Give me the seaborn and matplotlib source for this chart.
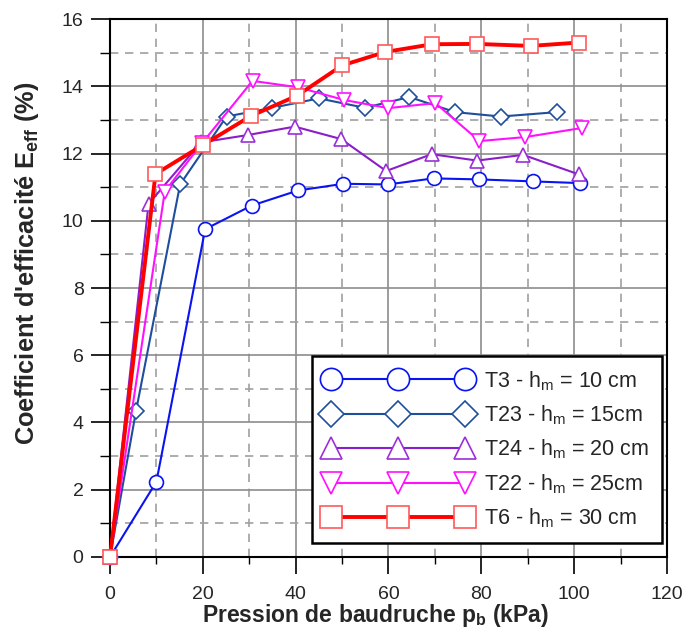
import matplotlib
matplotlib.use("Agg")
import matplotlib.pyplot as plt
from matplotlib.ticker import MultipleLocator
import seaborn as sns
import pandas as pd

# pressure (kPa) and efficiency coefficient (%) per test
t3_x = [0, 10, 20.5, 30.5, 40.5, 50.3, 59.8, 69.7, 79.6, 91.2, 101.3]
t3_y = [0, 2.24, 9.75, 10.45, 10.9, 11.1, 11.08, 11.26, 11.23, 11.17, 11.12]
t23_x = [0, 5.6, 15.1, 25.1, 35.0, 45.0, 54.9, 64.5, 74.4, 84.2, 96.2]
t23_y = [0, 4.34, 11.08, 13.1, 13.36, 13.64, 13.36, 13.68, 13.23, 13.1, 13.23]
t24_x = [0, 8.3, 19.6, 29.7, 39.8, 49.8, 59.5, 69.3, 79.1, 89.0, 101.0]
t24_y = [0, 10.5, 12.33, 12.55, 12.8, 12.43, 11.48, 11.98, 11.79, 11.96, 11.38]
t22_x = [0, 11.8, 19.9, 30.7, 40.5, 50.5, 60.0, 70.1, 79.6, 89.5, 101.7]
t22_y = [0, 10.87, 12.32, 14.16, 13.97, 13.59, 13.35, 13.5, 12.37, 12.49, 12.76]
t6_x = [0, 9.8, 20.1, 30.4, 40.3, 50.0, 59.3, 69.4, 79.1, 90.6, 101.0]
t6_y = [0, 11.39, 12.26, 13.12, 13.72, 14.62, 15.02, 15.25, 15.26, 15.2, 15.3]

labels = [r"T3 - h$_\mathrm{m}$ = 10 cm", r"T23 - h$_\mathrm{m}$ = 15cm",
          r"T24 - h$_\mathrm{m}$ = 20 cm", r"T22 - h$_\mathrm{m}$ = 25cm",
          r"T6 - h$_\mathrm{m}$ = 30 cm"]

sns.set_style("white")
plt.rcParams['font.family'] = ['Liberation Sans', 'DejaVu Sans']
plt.rcParams['mathtext.fontset'] = 'custom'
plt.rcParams['mathtext.rm'] = 'Liberation Sans'
plt.rcParams['mathtext.bf'] = 'Liberation Sans:bold'
plt.rcParams['mathtext.it'] = 'Liberation Sans:italic'

fig = plt.figure(figsize=(6.85, 6.3), dpi=100)
ax = fig.add_axes([0.1606, 0.1159, 0.8131, 0.8539])

series = [(t3_x, t3_y, 'o', '#0a14f0', '#0a14f0', 1.5, 10),
          (t23_x, t23_y, 'D', '#1f4e9c', '#1f4e9c', 1.5, 8),
          (t24_x, t24_y, '^', '#8a1ec8', '#9a30d8', 1.5, 10),
          (t22_x, t22_y, 'v', '#ff10ff', '#ff10ff', 1.5, 10),
          (t6_x, t6_y, 's', '#ff0000', '#ff5a5a', 2.8, 10)]

for (xs, ys, mk, col, mec, lw, ms), lab in zip(series, labels):
    df = pd.DataFrame({'p': xs, 'e': ys})
    sns.lineplot(data=df, x='p', y='e', ax=ax, sort=False, estimator=None,
                 color=col, lw=lw, marker=mk, ms=ms, mfc='white', mec=mec,
                 mew=1.2, label=lab, clip_on=False, zorder=3)

ax.set_xlim(0, 120)
ax.set_ylim(0, 16)
ax.xaxis.set_major_locator(MultipleLocator(20))
ax.xaxis.set_minor_locator(MultipleLocator(10))
ax.yaxis.set_major_locator(MultipleLocator(2))
ax.yaxis.set_minor_locator(MultipleLocator(1))
ax.set_axisbelow(True)
ax.grid(which='major', color='#8c8c8c', lw=1.2, ls='-')
ax.grid(which='minor', color='#a0a0a0', lw=1.2, ls=(0, (5, 4)))
ax.tick_params(which='major', direction='out', width=1.2,
               labelsize=14, color='black', left=True, bottom=True)
ax.tick_params(which='minor', direction='out', width=1.0,
               color='black', left=True, bottom=True)
ax.tick_params(axis='x', which='major', length=12, pad=9)
ax.tick_params(axis='x', which='minor', length=5)
ax.tick_params(axis='y', which='major', length=14, pad=5)
ax.tick_params(axis='y', which='minor', length=7)
for s in ax.spines.values():
    s.set_color('black')
    s.set_linewidth(1.5)

ax.set_xlabel(r"Pression de baudruche $\mathbf{p_b}$ (kPa)", fontsize=16.5,
              fontweight='bold')
ax.set_ylabel(r"Coefficient d'efficacité $\mathbf{E_{eff}}$ (%)", fontsize=18.3,
              fontweight='bold')
ax.xaxis.set_label_coords(0.476, -0.083)
ax.yaxis.set_label_coords(-0.124, 0.546)

leg = ax.legend(loc='lower right', bbox_to_anchor=(0.991, 0.026), borderaxespad=0,
                numpoints=3, markerscale=1.6, handlelength=6.8, fontsize=15.5,
                frameon=True, fancybox=False, edgecolor='black',
                labelspacing=0.5, handletextpad=0.6, borderpad=0.6)
leg.get_frame().set_linewidth(1.8)
leg.get_frame().set_alpha(1)

fig.savefig("out.png", dpi=100)
